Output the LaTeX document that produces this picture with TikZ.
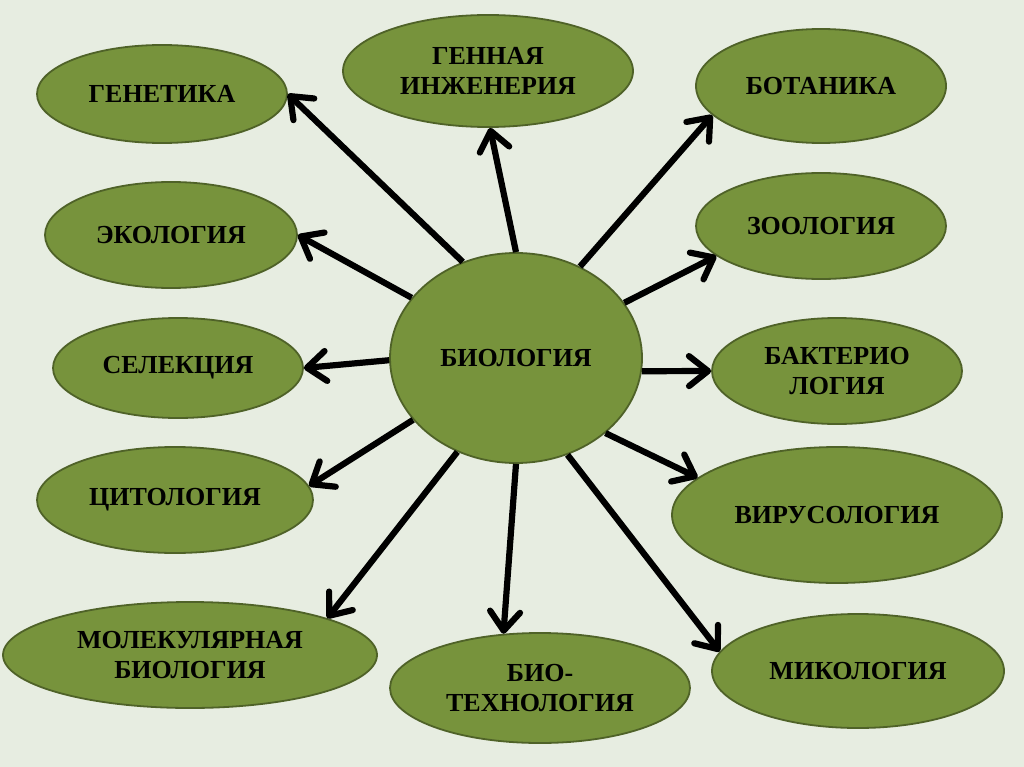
\documentclass[tikz,border=0pt]{standalone}
\usepackage{fontspec}
\setmainfont{Liberation Serif}
\usepackage{xcolor}
\usepackage{tikz}
\usetikzlibrary{arrows.meta,shapes.geometric}
\definecolor{OliveFill}{HTML}{77933C}
\definecolor{OliveLine}{HTML}{4F6228}
\definecolor{PaleBg}{HTML}{E7EDE1}

\begin{document}
\begin{tikzpicture}[
  x=1pt,y=-1pt,
  oval/.style={ellipse,draw=OliveLine,fill=OliveFill,line width=1.8pt,inner sep=0pt,align=center,
    font=\fontsize{26}{30}\selectfont\bfseries},
  arr/.style={-{Straight Barb[length=19pt,width=30pt,round]},draw=black,line width=6.2pt}
]
\fill[PaleBg] (0,0) rectangle (1024,767);
\useasboundingbox (0,0) rectangle (1024,767);
% центр
\node[oval,minimum width=252pt,minimum height=210pt] (bio) at (516,358) {БИОЛОГИЯ};
% слева
\node[oval,minimum width=250pt,minimum height=98pt] (gen) at (162,94) {ГЕНЕТИКА};
\node[oval,minimum width=252pt,minimum height=106pt] (eco) at (171,235) {ЭКОЛОГИЯ};
\node[oval,minimum width=250pt,minimum height=100pt] (sel) at (178,368) {СЕЛЕКЦИЯ};
\node[oval,minimum width=276pt,minimum height=106pt] (cyto) at (175,500) {ЦИТОЛОГИЯ};
\node[oval,minimum width=374pt,minimum height=106pt] (molbio) at (190,655) {МОЛЕКУЛЯРНАЯ\\БИОЛОГИЯ};
% сверху и снизу
\node[oval,minimum width=290pt,minimum height=112pt] (geneng) at (488,71) {ГЕННАЯ\\ИНЖЕНЕРИЯ};
\node[oval,minimum width=300pt,minimum height=110pt] (biotech) at (540,688) {БИО-\\ТЕХНОЛОГИЯ};
% справа
\node[oval,minimum width=250pt,minimum height=114pt] (bot) at (821,86) {БОТАНИКА};
\node[oval,minimum width=250pt,minimum height=106pt] (zoo) at (821,226) {ЗООЛОГИЯ};
\node[oval,minimum width=250pt,minimum height=106pt] (bact) at (837,371) {БАКТЕРИО\\ЛОГИЯ};
\node[oval,minimum width=330pt,minimum height=136pt] (viro) at (837,515) {ВИРУСОЛОГИЯ};
\node[oval,minimum width=292pt,minimum height=114pt] (myco) at (858,671) {МИКОЛОГИЯ};
% стрелки
\draw[arr] (bio.119) -- (gen.east);
\draw[arr] (bio.90) -- (geneng.272);
\draw[arr] (bio.55) -- (bot.195);
\draw[arr] (bio.150) -- (eco.east);
\draw[arr] (bio.27) -- (zoo.196);
\draw[arr] (bio.181) -- (sel.east);
\draw[arr] (bio.354) -- (bact.west);
\draw[arr] (bio.211) -- (cyto.6);
\draw[arr] (bio.320) -- (viro.165);
\draw[arr] (bio.238) -- (molbio.15);
\draw[arr] (bio.270) -- (biotech.124);
\draw[arr] (bio.298) -- (myco.172);
\end{tikzpicture}
\end{document}
